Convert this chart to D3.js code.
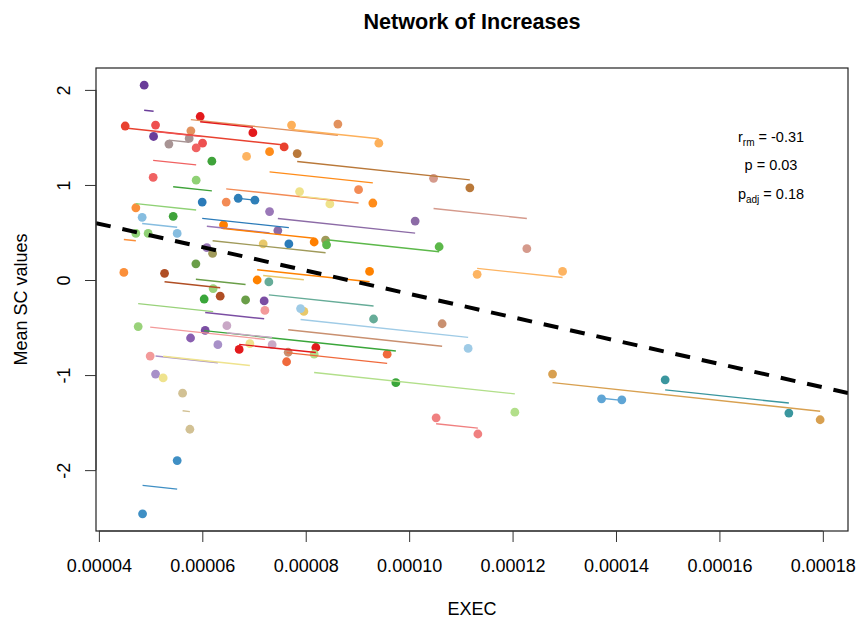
<!DOCTYPE html>
<html><head><meta charset="utf-8">
<script src="https://cdn.jsdelivr.net/npm/d3@7"></script>
<style>
body{margin:0;background:#fff}
text{font-family:"Liberation Sans",Arial,Helvetica,sans-serif;fill:#000}
</style>
</head><body>
<svg id="chart" width="858" height="619"></svg>
<script>
// ---- data (x in EXEC units, y = Mean SC values) ----
const subjX1 = [48.76e-6,45.09e-6,50.96e-6,53.54e-6,57.79e-6,59.59e-6,58.81e-6,61.85e-6,73.01e-6,58.81e-6,
  47.15e-6,59.98e-6,64.62e-6,66.94e-6,73.01e-6,48.37e-6,64.11e-6,77.26e-6,78.35e-6,104.72e-6,
  78.81e-6,101.16e-6,61.99e-6,58.76e-6,71.77e-6,52.70e-6,70.61e-6,72.87e-6,62.10e-6,60.36e-6,
  71.96e-6,72.10e-6,64.75e-6,63.01e-6,67.13e-6,69.20e-6,56.19e-6,55.14e-6,84.03e-6,113.15e-6,
  79.00e-6,106.38e-6,81.63e-6,95.75e-6,105.22e-6,127.73e-6,137.21e-6,149.51e-6];
const subjY1 = [2.05,1.62,1.63,1.43,1.57,1.72,1.39,1.25,1.35,1.05,
  0.76,0.82,0.82,0.86,0.72,0.66,0.58,1.63,1.33,1.07,
  0.93,0.62,0.28,0.17,0.38,0.07,0.00,-0.02,-0.09,-0.20,
  -0.22,-0.32,-0.48,-0.68,-0.73,-0.67,-1.19,-1.90,0.37,0.06,
  -0.30,-0.46,-0.78,-0.78,-1.45,-0.99,-1.25,-1.05];
const subjX2 = [50.58e-6,75.83e-6,60.05e-6,57.46e-6,86.22e-6,69.78e-6,50.50e-6,54.37e-6,92.98e-6,47.15e-6,
  44.83e-6,76.74e-6,90.22e-6,70.17e-6,60.88e-6,55.14e-6,81.63e-6,94.14e-6,111.74e-6,122.76e-6,
  84.67e-6,74.61e-6,83.84e-6,68.37e-6,79.64e-6,63.46e-6,92.35e-6,93.12e-6,47.60e-6,97.43e-6,
  60.56e-6,49.92e-6,73.51e-6,50.96e-6,81.96e-6,52.43e-6,57.60e-6,48.45e-6,105.80e-6,129.67e-6,
  111.41e-6,76.61e-6,120.44e-6,76.30e-6,113.29e-6,179.48e-6,141.13e-6,173.43e-6];
const subjY2 = [1.51,1.40,1.44,1.49,1.64,1.55,1.08,0.67,0.81,0.49,
  0.08,0.38,0.95,0.84,0.34,0.49,0.40,1.44,0.97,0.33,
  0.80,0.52,0.42,-0.21,-0.33,-0.17,0.09,-0.41,-0.49,-1.08,
  -0.53,-0.80,-0.68,-0.99,-0.71,-1.03,-1.57,-2.46,0.35,0.09,
  -0.72,-0.76,-1.39,-0.86,-1.62,-1.47,-1.26,-1.40];
const subjColor = ["#6a3d9a","#e8412f","#ee5050","#a89494","#e2925e","#e31a1c","#f06262","#3fa33a","#ff8c1a","#8fd175",
  "#fb8f3a","#2b7bb9","#f38b55","#2f7fb8","#9a78b8","#86bde0","#ff7f00","#fdb05a","#b97839","#d59a8c",
  "#efe28a","#8c6ba6","#a09a5a","#6a9e48","#e8c86a","#b04e24","#ff8200","#66ac98","#99d27a","#3aa63a",
  "#7b4ea3","#f39a9a","#c9a8c6","#a890c8","#e31a1c","#efe38e","#d2c194","#3f8fc4","#5cb84a","#fdb462",
  "#9fcbe6","#c99070","#b2df8a","#f06a3c","#f08080","#d8a050","#5fa5d5","#3a969e"];
// subjects with a single observation (no within-subject line)
const singleX = [68.56e-6,49.53e-6,57.73e-6];
const singleY = [1.30,0.49,-0.61];
const singleColor = ["#fdb462","#8fd175","#8a5fb0"];

const rmSlope = -5800;               // common within-subject slope
const overallIntercept = 1.0837;     // overall regression (dashed)
const overallSlope = -12292;

const xTicks = [0.00004,0.00006,0.00008,0.00010,0.00012,0.00014,0.00016,0.00018];
const xTickLabels = ["0.00004","0.00006","0.00008","0.00010","0.00012","0.00014","0.00016","0.00018"];
const yTicks = [-2,-1,0,1,2];
const yTickLabels = ["-2","-1","0","1","2"];
const titleText = "Network of Increases";
const xLabel = "EXEC", yLabel = "Mean SC values";
const statName = ["r","p","p"], statSub = ["rm","","adj"], statVal = ["-0.31","0.03","0.18"];

// ---- layout ----
const svg = d3.select("#chart");
const L = 96, R = 848, T = 68, B = 531;
const allX = subjX1.concat(subjX2, singleX), allY = subjY1.concat(subjY2, singleY);
const pad = (e) => { const d = (e[1]-e[0])*0.04; return [e[0]-d, e[1]+d]; };
const x = d3.scaleLinear().domain(pad(d3.extent(allX))).range([L, R]);
const y = d3.scaleLinear().domain(pad(d3.extent(allY))).range([B, T]);

svg.append("defs").append("clipPath").attr("id","clip")
  .append("rect").attr("x",L).attr("y",T).attr("width",R-L).attr("height",B-T);

// points
const pts = [];
subjX1.forEach((v,i)=>{ pts.push({x:v,y:subjY1[i],c:subjColor[i]}); pts.push({x:subjX2[i],y:subjY2[i],c:subjColor[i]}); });
singleX.forEach((v,i)=>pts.push({x:v,y:singleY[i],c:singleColor[i]}));
svg.append("g").selectAll("circle").data(pts).join("circle")
  .attr("cx",d=>x(d.x)).attr("cy",d=>y(d.y)).attr("r",4.4).attr("fill",d=>d.c);

// within-subject fitted lines
const segs = subjX1.map((x1,i)=>{
  const xm = (x1+subjX2[i])/2, ym = (subjY1[i]+subjY2[i])/2;
  const xa = Math.min(x1,subjX2[i]), xb = Math.max(x1,subjX2[i]);
  return {x1:xa,y1:ym+rmSlope*(xa-xm),x2:xb,y2:ym+rmSlope*(xb-xm),c:subjColor[i]};
});
svg.append("g").selectAll("line").data(segs).join("line")
  .attr("x1",d=>x(d.x1)).attr("y1",d=>y(d.y1)).attr("x2",d=>x(d.x2)).attr("y2",d=>y(d.y2))
  .attr("stroke",d=>d.c).attr("stroke-width",1.4);

// overall dashed line
const xd = x.domain();
svg.append("line").attr("clip-path","url(#clip)")
  .attr("x1",x(xd[0])).attr("y1",y(overallIntercept+overallSlope*xd[0]))
  .attr("x2",x(xd[1])).attr("y2",y(overallIntercept+overallSlope*xd[1]))
  .attr("stroke","#000").attr("stroke-width",4).attr("stroke-dasharray","15,12");

// box
svg.append("rect").attr("x",L).attr("y",T).attr("width",R-L).attr("height",B-T)
  .attr("fill","none").attr("stroke","#222").attr("stroke-width",1.2);

// axes
const gx = svg.append("g").attr("transform",`translate(0,${B})`)
  .call(d3.axisBottom(x).tickValues(xTicks).tickFormat((d,i)=>xTickLabels[i]).tickSize(11).tickSizeOuter(0));
gx.select(".domain").attr("stroke","#333").attr("d",`M${x(xTicks[0])},0H${x(xTicks[xTicks.length-1])}`);
gx.selectAll(".tick line").attr("stroke","#333");
gx.selectAll(".tick text").attr("y",41).attr("dy",0).attr("font-size",18).attr("fill","#000")
  .style("font-family","'Liberation Sans',Arial,sans-serif");

const gy = svg.append("g").attr("transform",`translate(${L},0)`)
  .call(d3.axisLeft(y).tickValues(yTicks).tickFormat((d,i)=>yTickLabels[i]).tickSize(11).tickSizeOuter(0));
gy.select(".domain").attr("stroke","#333").attr("d",`M0,${y(yTicks[0])}V${y(yTicks[yTicks.length-1])}`);
gy.selectAll(".tick line").attr("stroke","#333");
gy.selectAll(".tick text").attr("x",0).attr("y",0).attr("dy",0).attr("text-anchor","middle")
  .attr("transform","translate(-26,0) rotate(-90)").attr("font-size",18).attr("fill","#000")
  .style("font-family","'Liberation Sans',Arial,sans-serif");

// titles
svg.append("text").attr("x",(L+R)/2).attr("y",29).attr("text-anchor","middle")
  .attr("font-size",21.6).attr("font-weight","bold").text(titleText);
svg.append("text").attr("x",(L+R)/2).attr("y",615).attr("text-anchor","middle")
  .attr("font-size",18).text(xLabel);
svg.append("text").attr("transform",`translate(27,${(T+B)/2}) rotate(-90)`).attr("text-anchor","middle")
  .attr("font-size",18).text(yLabel);

// stats annotation
const statY = [141.5,170,198.5];
statName.forEach((n,i)=>{
  const t = svg.append("text").attr("x",771).attr("y",statY[i]).attr("text-anchor","middle").attr("font-size",14.5);
  t.append("tspan").text(n);
  if (statSub[i]) {
    t.append("tspan").attr("font-size",10).attr("dy",4).text(statSub[i]);
    t.append("tspan").attr("dy",-4).text(" = " + statVal[i]);
  } else {
    t.append("tspan").text(" = " + statVal[i]);
  }
});
</script>
</body></html>
